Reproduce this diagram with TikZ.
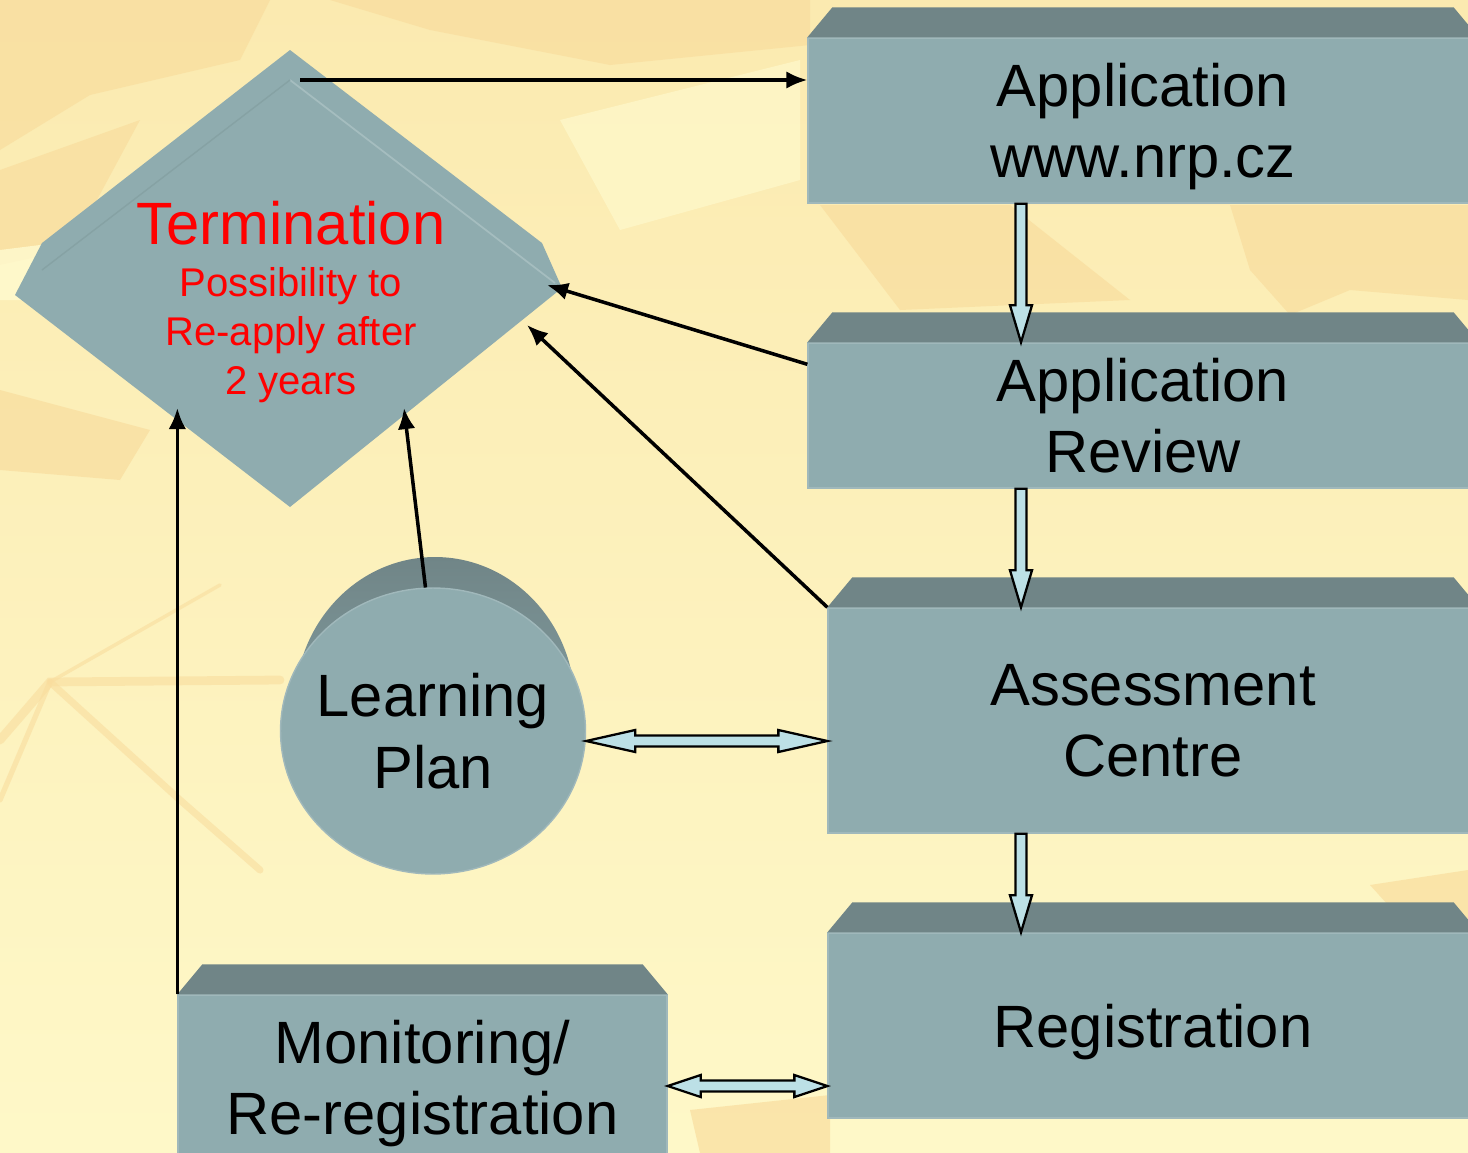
\documentclass[tikz,border=0pt]{standalone}
\usepackage{fontspec}
\setmainfont{Liberation Sans}
\usepackage{tikz}
\usetikzlibrary{shapes,arrows,arrows.meta,calc}
\definecolor{boxface}{RGB}{143,172,175}
\definecolor{boxtop}{RGB}{112,133,135}
\definecolor{arrowfill}{RGB}{188,224,230}
\definecolor{bgtop}{RGB}{251,234,176}
\definecolor{bgbottom}{RGB}{254,248,200}
\definecolor{bgorange}{RGB}{249,221,158}
\definecolor{bglight}{RGB}{255,251,208}

% bevelled top of a box
\newcommand{\boxtop}[1]{\fill[boxtop] (#1.north west) -- ++(25,-30) -- ($(#1.north east)+(-25,-30)$) -- (#1.north east) -- cycle;}
% block arrow pointing down, tail #1, tip #2
\newcommand{\downblock}[2]{\path[blockarrow] ($(#1)+(-5.5,0)$) -- ($(#2)+(-5.5,-37)$) -- ($(#2)+(-11,-37)$) -- (#2) -- ($(#2)+(11,-37)$) -- ($(#2)+(5.5,-37)$) -- ($(#1)+(5.5,0)$) -- cycle;}
% block arrow with two heads, left tip #1, right tip #2, head length #3
\newcommand{\sideblock}[3]{\path[blockarrow] (#1) -- ($(#1)+(#3,-11)$) -- ($(#1)+(#3,-5.5)$) -- ($(#2)+(-#3,-5.5)$) -- ($(#2)+(-#3,-11)$) -- (#2) -- ($(#2)+(-#3,11)$) -- ($(#2)+(-#3,5.5)$) -- ($(#1)+(#3,5.5)$) -- ($(#1)+(#3,11)$) -- cycle;}

\begin{document}
\begin{tikzpicture}[x=0.02cm, y=-0.02cm]
    % Define block styles
    \tikzstyle{box} = [rectangle, fill=boxface, draw=boxface!85!white, line width=0.8pt,
        inner sep=0pt, align=center, text depth=0pt, font=\fontsize{34pt}{40.8pt}\selectfont]
    \tikzstyle{line} = [draw, line width=2pt, -{Latex[length=12pt,width=10pt]}]
    \tikzstyle{blockarrow} = [fill=arrowfill, draw=black, line width=1.3pt, line join=miter]
    \tikzstyle{patch} = [fill=bgorange, opacity=0.7]
    \tikzstyle{streak} = [draw=bgorange, opacity=0.6, line cap=round]

    % Background
    \useasboundingbox (0,0) rectangle (1468,1153);
    \clip (0,0) rectangle (1468,1153);
    \shade[top color=bgtop, bottom color=bgbottom] (0,0) rectangle (1468,1153);
    \fill[patch] (0,0) -- (270,0) -- (240,60) -- (90,95) -- (0,150) -- cycle;
    \fill[patch] (0,170) -- (140,120) -- (70,250) -- (0,265) -- cycle;
    \fill[patch] (330,0) -- (810,0) -- (810,45) -- (610,65) -- (430,30) -- cycle;
    \fill[patch] (820,205) -- (1010,205) -- (1130,300) -- (900,310) -- cycle;
    \fill[patch] (1230,205) -- (1468,205) -- (1468,300) -- (1350,290) -- (1290,315) -- (1250,270) -- cycle;
    \fill[patch] (0,390) -- (150,430) -- (120,480) -- (0,470) -- cycle;
    \fill[patch] (1370,885) -- (1468,870) -- (1468,935) -- (1415,935) -- cycle;
    \fill[patch] (690,1110) -- (830,1095) -- (830,1153) -- (700,1153) -- cycle;
    \fill[bglight, opacity=0.6] (560,120) -- (800,60) -- (800,180) -- (620,230) -- cycle;
    \fill[bglight, opacity=0.8] (0,250) -- (160,230) -- (40,300) -- (0,300) -- cycle;
    \path[streak, line width=5pt] (0,740) -- (50,682) -- (280,680);
    \path[streak, line width=4pt] (50,682) -- (180,800) -- (260,870);
    \path[streak, line width=3pt] (50,682) -- (0,800);
    \path[streak, line width=2pt] (50,682) -- (220,585);

    % Termination diamond
    \fill[boxface] (290,50) -- (542,243) -- (562,288) -- (290,507) -- (15,295) -- (42,243) -- cycle;
    \draw[boxface!80!white, line width=1pt] (290,80) -- (555,283);
    \draw[boxface!94!black, line width=0.8pt] (290,80) -- (42,270);
    \node [align=center, text=red, inner sep=0pt, font=\fontsize{22.8pt}{27.8pt}\selectfont]
        (term) at (291,302) {{\fontsize{34pt}{40pt}\selectfont Termination}\\[1.7pt]
        Possibility to\\Re-apply after\\2 years};

    % Learning plan cylinder
    \shade[top color=boxtop, bottom color=boxface] (435,705) ellipse [x radius=2.8cm, y radius=2.96cm];
    \node [ellipse, fill=boxface, draw=boxface!85!white, line width=0.8pt, minimum width=6.1cm,
        minimum height=5.72cm, inner sep=0pt,
        label={[align=center, font=\fontsize{34pt}{40.8pt}\selectfont]center:Learning\\Plan}]
        (plan) at (433,731) {};

    % Place nodes
    \node [box, minimum width=13.4cm, minimum height=3.3cm] (app) at (1143,120.5) {Application\\www.nrp.cz};
    \node [box, minimum width=13.4cm, minimum height=2.9cm] (review) at (1143,415.5) {Application\\Review};
    \node [box, minimum width=13cm, minimum height=4.5cm] (assess) at (1153,720.5) {Assessment\\Centre};
    \node [box, minimum width=13cm, minimum height=3.7cm] (regist) at (1153,1025.5) {Registration};
    \node [box, minimum width=9.78cm, minimum height=3.3cm] (monitor) at (422.5,1077.5) {Monitoring/\\Re-registration};
    \boxtop{app}
    \boxtop{review}
    \boxtop{assess}
    \boxtop{regist}
    \boxtop{monitor}

    % Arrow ends
    \coordinate (col) at (1021,0);
    \coordinate (midA) at (0,741);
    \coordinate (midB) at (0,1086);
    \coordinate (start) at (300,80);
    \coordinate (tipA) at (547,285);
    \coordinate (tipB) at (527,325);
    \coordinate (tipC) at (404,408);
    \coordinate (tipD) at (178,408);

    % Draw edges
    \path [line] (start) -- (start -| app.west);
    \path [line] ($(review.north west)+(0,22)$) -- (tipA);
    \path [line] (assess.north west) -- (tipB);
    \path [line] (plan.93) -- (tipC);
    \path [line] (monitor.north west) -- (monitor.north west |- tipD);
    \downblock{app.south -| col}{review.north -| col}
    \downblock{review.south -| col}{assess.north -| col}
    \downblock{assess.south -| col}{regist.north -| col}
    \sideblock{plan.east |- midA}{assess.west |- midA}{49}
    \sideblock{monitor.east |- midB}{regist.west |- midB}{33}
\end{tikzpicture}
\end{document}
